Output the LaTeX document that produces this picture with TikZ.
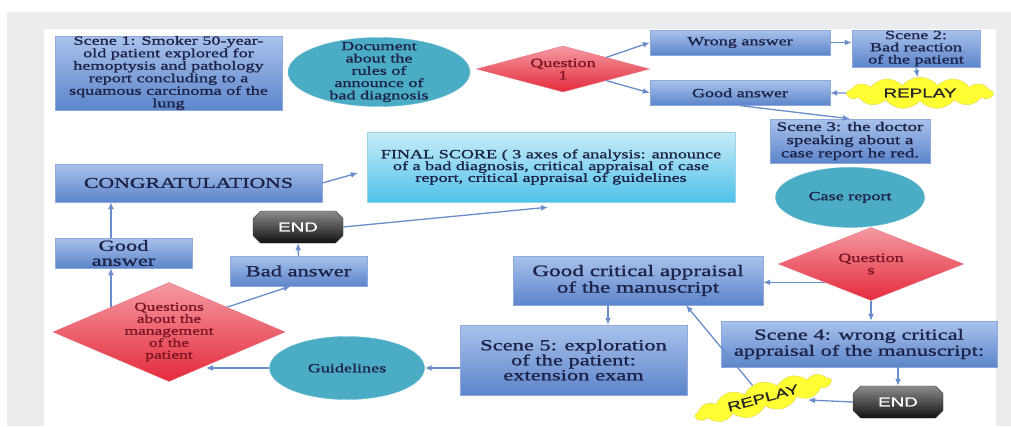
\documentclass[tikz,border=0pt]{standalone}
\usepackage{fontspec}
\setmainfont[FakeStretch=1.45, FakeBold=1.2]{Liberation Serif}
\newfontfamily\tagfont[FakeStretch=1.45, FakeBold=1]{Liberation Sans}
\usetikzlibrary{arrows.meta, positioning, shapes.geometric, shapes.symbols, shapes.misc}
\definecolor{framegray}{HTML}{EBECEE}
\definecolor{boxtop}{HTML}{A9C2EC}
\definecolor{boxbot}{HTML}{5C85CB}
\definecolor{boxline}{HTML}{8EAADB}
\definecolor{scoretop}{HTML}{C8ECF8}
\definecolor{scorebot}{HTML}{4FC2EA}
\definecolor{scoreline}{HTML}{9AD3EA}
\definecolor{docfill}{HTML}{4BACC6}
\definecolor{docline}{HTML}{6DBBD0}
\definecolor{asktop}{HTML}{F59AA2}
\definecolor{askbot}{HTML}{E42A3C}
\definecolor{askline}{HTML}{E8737D}
\definecolor{askink}{HTML}{7B1522}
\definecolor{ink}{HTML}{1E2246}
\definecolor{replayfill}{HTML}{FFFF33}
\definecolor{replayline}{HTML}{E2D24C}
\definecolor{halttop}{HTML}{8C8C8C}
\definecolor{haltbot}{HTML}{111111}
\definecolor{linkc}{HTML}{6A8DCB}

\begin{document}
\begin{tikzpicture}[
      x=1pt, y=-1pt, >={Latex[length=7pt,width=6pt]},
      box/.style={draw=boxline, top color=boxtop, bottom color=boxbot,
                  text=ink, align=center, inner sep=0pt,
                  font=\fontsize{12.5}{12.5}\selectfont},
      score/.style={draw=scoreline, top color=scoretop, bottom color=scorebot,
                    text=ink, align=center, inner sep=0pt,
                    minimum width=368, minimum height=70,
                    font=\fontsize{12.5}{11.8}\selectfont},
      doc/.style={ellipse, draw=docline, fill=docfill, text=ink, inner sep=0pt,
                  font=\fontsize{12.5}{12.3}\selectfont},
      doctext/.style={text=ink, align=center, inner sep=0pt,
                      font=\fontsize{12.5}{12.3}\selectfont},
      ask/.style={diamond, draw=askline, top color=asktop, bottom color=askbot,
                  text=askink, align=center, inner sep=0pt,
                  font=\fontsize{12.5}{12.3}\selectfont},
      replaybox/.style={cloud, cloud puffs=13, cloud puff arc=100, aspect=5,
                        draw=replayline, fill=replayfill, inner sep=0pt,
                        text=black!85, font=\tagfont\fontsize{13}{13}\selectfont},
      halt/.style={chamfered rectangle, chamfered rectangle xsep=9pt,
                   draw=black!80, top color=halttop, bottom color=haltbot,
                   text=white, minimum width=90, minimum height=32, inner sep=0pt,
                   font=\tagfont\fontsize{13}{13}\selectfont},
      link/.style={->, draw=linkc, line width=1.3pt},
    ]
    \useasboundingbox (0,0) rectangle (1011,426);
    \fill[framegray] (7,12) rectangle (1011,426);
    \fill[white] (44,29) rectangle (996,426);

    % first scene and question 1
    \node[box, minimum width=227, minimum height=72] (scene1) at (168.5,73)
      {Scene 1: Smoker 50-year-\\old patient explored for\\hemoptysis and pathology\\report concluding to a\\squamous carcinoma of the\\lung};
    \node[doc, minimum width=182, minimum height=69,
          label={[doctext]center:{Document\\about the\\rules of\\announce of\\bad diagnosis}}] (rules) at (379,72) {};
    \node[ask, aspect=3.76, minimum width=173, minimum height=46] (q1) at (563,69) {Question\\1};
    \node[box, minimum width=180, minimum height=25] (wrong) at (740,42.5) {Wrong answer};
    \node[box, minimum width=180, minimum height=25, below=25pt of wrong] (goodtop) {Good answer};
    \node[box, minimum width=128, minimum height=37,
          font=\fontsize{12.5}{12.2}\selectfont] (scene2) at (916,48.5) {Scene 2:\\Bad reaction\\of the patient};
    \node[replaybox, minimum width=146, minimum height=27] (replaytop) at (920,93) {REPLAY};
    \node[box, minimum width=160, minimum height=44,
          font=\fontsize{13}{13.2}\selectfont] (scene3) at (850,141) {Scene 3: the doctor\\speaking about a\\case report he red.};
    \node[doc, minimum width=149, minimum height=60, below=4pt of scene3] (casedoc) {Case report};

    % score and the left branch
    \node[score] (score) at (551,167)
      {FINAL SCORE ( 3 axes of analysis: announce\\of a bad diagnosis, critical appraisal of case\\report, critical appraisal of guidelines};
    \node[box, minimum width=267, minimum height=38,
          font=\fontsize{15}{15}\selectfont] (congrats) at (188.5,183) {CONGRATULATIONS};
    \node[box, minimum width=137, minimum height=30,
          font=\fontsize{15.5}{15}\selectfont] (goodleft) at (123.5,253) {Good\\answer};
    \node[halt] (endleft) at (298,227) {END};
    \node[box, minimum width=137, minimum height=30,
          font=\fontsize{15.5}{15}\selectfont] (badans) at (298.5,271) {Bad answer};
    \node[ask, aspect=2.34, minimum width=232, minimum height=99,
          font=\fontsize{12}{12}\selectfont] (qmanage) at (169,332)
      {Questions\\about the\\management\\of the\\patient};
    \node[doc, minimum width=155, minimum height=63] (guide) at (347,368) {Guidelines};

    % case report branch
    \node[box, minimum width=227, minimum height=70,
          font=\fontsize{15.5}{15}\selectfont] (scene5) at (573.5,360)
      {Scene 5: exploration\\of the patient:\\extension exam};
    \node[box, minimum width=250, minimum height=49,
          font=\fontsize{16}{16.5}\selectfont] (appraisal) at (638,280.5)
      {Good critical appraisal\\of the manuscript};
    \node[ask, aspect=2.53, minimum width=185, minimum height=73] (qcase) at (871,264) {Question\\s};
    \node[box, minimum width=276, minimum height=46,
          font=\fontsize{15.5}{16}\selectfont] (scene4) at (859,344)
      {Scene 4: wrong critical\\appraisal of the manuscript:};
    \node[halt] (endright) at (898,402) {END};
    \node[replaybox, rotate=15, minimum width=140, minimum height=30] (replaylow) at (763,398) {REPLAY};

    \draw[link] (q1.north east) -- (wrong.west);
    \draw[link] (q1.south east) -- (goodtop.west);
    \draw[link] (wrong.east) -- (wrong.east -| scene2.west);
    \draw[link] (scene2.south) -- (replaytop);
    \draw[link] (replaytop.west) -- (goodtop.east);
    \draw[link] (goodtop.south) -- (scene3.north);
    \draw[link] (qcase.south west) -- (qcase.south west -| appraisal.east);
    \draw[link] (qcase.south) -- (qcase.south |- scene4.north);
    \draw[link] (endright.north |- scene4.south) -- (endright.north);
    \draw[link, shorten >=45pt] (endright.west) -- (replaylow.center);
    \draw[link] (replaylow) -- ([xshift=48pt]appraisal.south);
    \draw[link] ([xshift=-30pt]appraisal.south) -- ([xshift=-30pt]appraisal.south |- scene5.north);
    \draw[link] (scene5.west |- guide.east) -- (guide.east);
    \draw[link, shorten >=37pt] (guide.west) -- (guide.west -| qmanage.center);
    \draw[link] (qmanage.north west) -- (qmanage.north west |- goodleft.south);
    \draw[link] (qmanage.north west |- goodleft.north) -- (qmanage.north west |- congrats.south);
    \draw[link] (qmanage.north east) -- ([xshift=-8pt]badans.south);
    \draw[link] (badans.north) -- (endleft.south);
    \draw[link] (endleft.east) -- ([xshift=-3pt,yshift=-5pt]score.south);
    \draw[link] (congrats.east) -- ([xshift=-9pt,yshift=-6pt]score.west);
  \end{tikzpicture}
\end{document}
